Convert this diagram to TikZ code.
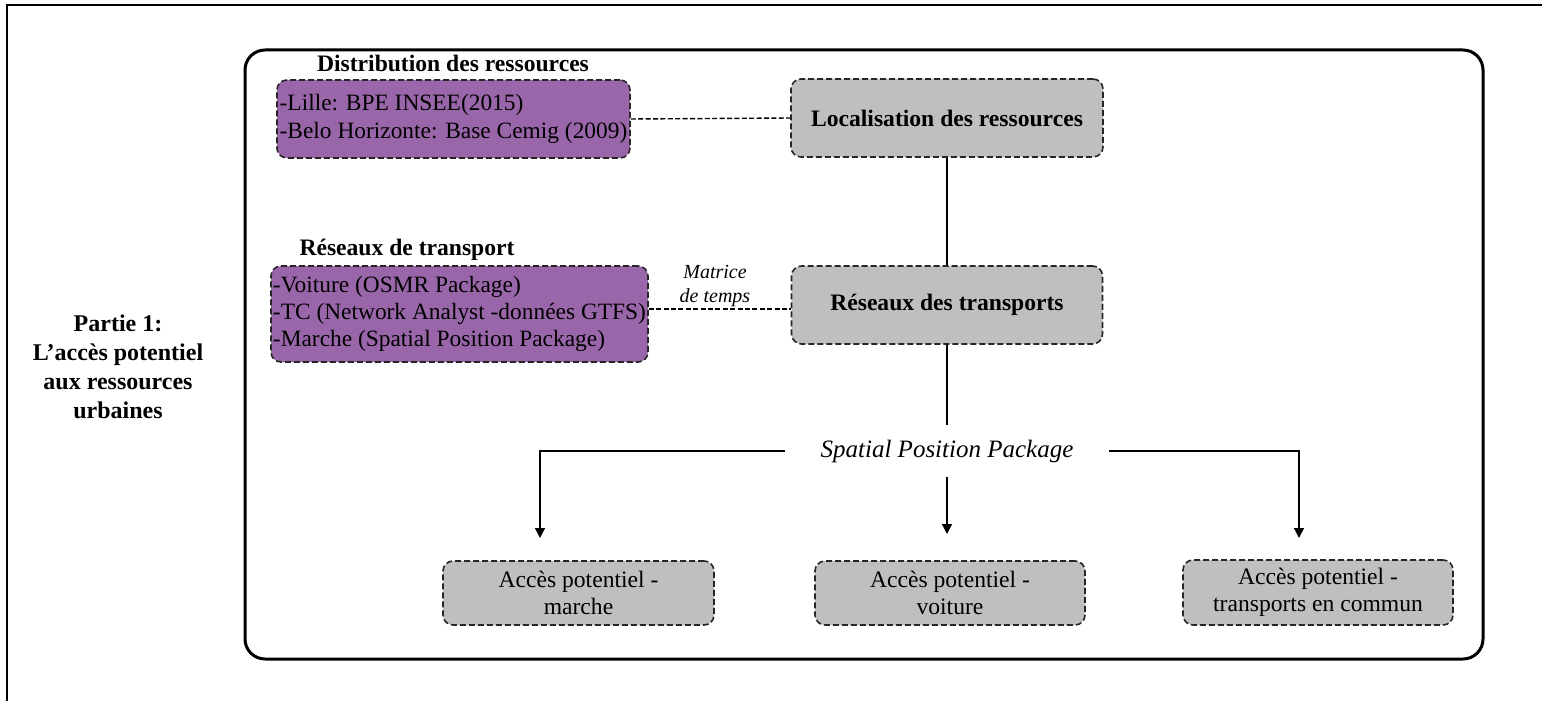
\documentclass[tikz,border=0pt]{standalone}
\usepackage{fontspec}
\setmainfont{Liberation Serif}
\usepackage{tikz}
\usetikzlibrary{arrows.meta,positioning}
\definecolor{acc-purple}{HTML}{9966AA}
\definecolor{acc-gray}{HTML}{BFBFBF}

\tikzset{
  databox/.style={draw=black!85, dash pattern=on 3pt off 1.5pt, line width=0.8pt,
    fill=acc-purple, rounded corners=5pt, align=left, inner xsep=0.5pt,
    font=\fontsize{11.7}{13.7}\selectfont},
  etapebox/.style={draw=black!85, dash pattern=on 3pt off 1.5pt, line width=0.8pt,
    fill=acc-gray, rounded corners=5pt, align=center,
    font=\fontsize{11.8}{13.5}\selectfont},
  entete/.style={font=\fontsize{11.8}{14}\selectfont\bfseries},
  lien/.style={dash pattern=on 2.5pt off 1.2pt, line width=0.7pt},
  fleche/.style={line width=0.7pt, -{Triangle[length=5pt,width=5pt]}},
}

\begin{document}
\begin{tikzpicture}[x=0.5pt, y=-0.5pt]
    \useasboundingbox (0,0) rectangle (1542,701);
    % cadres
    \draw[line width=1pt] (7,705) |- (1546,5);
    \draw[line width=1.5pt, rounded corners=10pt] (245,50) rectangle (1483,659);
    \node[align=center, font=\fontsize{12}{14.5}\selectfont\bfseries] (partie) at (118,367)
        {Partie 1:\\L’accès potentiel\\aux ressources\\urbaines};

    % donnees
    \node[entete] (distribtitre) at (453,63) {Distribution des ressources};
    \node[databox, minimum width=176.5pt, minimum height=39pt] (distrib) at (453.5,119)
        {-Lille: BPE INSEE(2015)\\-Belo Horizonte: Base Cemig (2009)};
    \node[entete] (transporttitre) at (407,250) {Réseaux de transport};
    \node[databox, minimum width=188.5pt, minimum height=48pt] (transport) at (459.5,314)
        {-Voiture (OSMR Package)\\-TC (Network Analyst -données GTFS)\\-Marche (Spatial Position Package)};

    % etapes
    \node[etapebox, minimum width=156pt, minimum height=39pt] (localisation) at (947,118)
        {\bfseries Localisation des ressources};
    \node[etapebox, minimum width=155.5pt, minimum height=39pt] (reseaux) at (947,305)
        {\bfseries Réseaux des transports};
    \node[align=center, font=\fontsize{10}{12}\selectfont\itshape] (matrice) at (715,286)
        {Matrice\\de temps};
    \node[font=\fontsize{12.5}{15}\selectfont\itshape, minimum width=161.5pt, minimum height=26pt] (spp)
        at (947,451) {Spatial Position Package};

    % acces
    \node[etapebox, minimum width=135.5pt, minimum height=32pt] (marche) at (578.5,593)
        {Accès potentiel -\\marche};
    \node[etapebox, minimum width=135pt, minimum height=32pt] (voiture) at (950,593)
        {Accès potentiel -\\voiture};
    \node[etapebox, minimum width=135pt, minimum height=32.5pt] (tc) at (1318,592.5)
        {Accès potentiel -\\transports en commun};
    \coordinate (lienmatrice) at (700,309);
    \coordinate (finmarche) at (540,538);
    \coordinate (finvoiture) at (947,534);
    \coordinate (fintc) at (1299,538);

    % liens
    \draw[lien] (distrib.east) -- (localisation.west);
    \draw[lien] (lienmatrice -| transport.east) -- (lienmatrice -| reseaux.west);
    \draw[line width=0.7pt] (localisation) -- (reseaux);
    \draw[line width=0.7pt] (reseaux) -- (spp);
    \draw[fleche] (spp.west) -| (finmarche);
    \draw[fleche] (spp.south) -- (finvoiture);
    \draw[fleche] (spp.east) -| (fintc);
\end{tikzpicture}
\end{document}
